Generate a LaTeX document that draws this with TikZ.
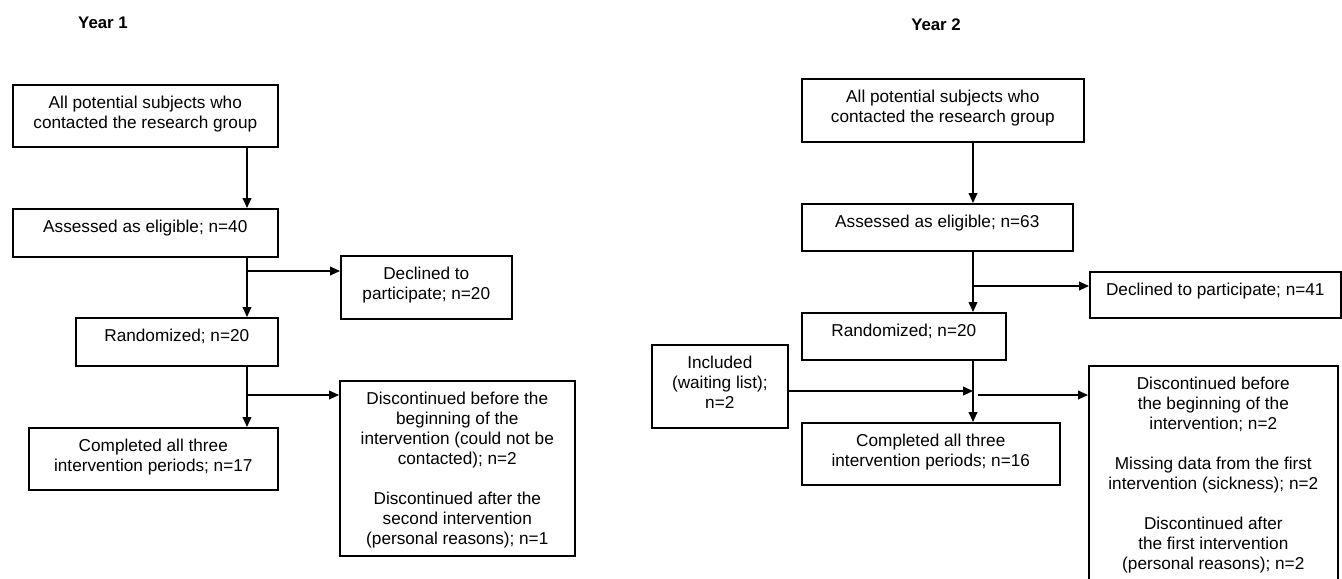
\documentclass[tikz,border=0pt]{standalone}
\usepackage{fontspec}
\setmainfont{Liberation Sans}
\usetikzlibrary{arrows.meta}

\newlength\pxu
\setlength\pxu{0.5pt}
% text set at the top of a box of given width and height (in px)
\newcommand{\boxtext}[3]{\parbox[c][#2\pxu][t]{#1\pxu}{\centering\rule{0pt}{11.8pt}#3}}

\tikzset{
  flowbox/.style={draw, line width=0.8pt, inner sep=0pt, anchor=north west},
  flowarrow/.style={-{Triangle[length=5pt,width=4.4pt]}, line width=0.7pt},
  yeartitle/.style={font=\fontsize{8.4}{10}\selectfont\bfseries}
}

\begin{document}
\begin{tikzpicture}[x=0.5pt,y=-0.5pt,font=\fontsize{8.6}{10}\selectfont]
\useasboundingbox (0,0) rectangle (1342,578);

% Year 1
\node[yeartitle] (title1) at (103,23) {Year 1};
\node[flowbox] (all1) at (12,84) {\boxtext{265}{62}{All potential subjects who\\contacted the research group}};
\node[flowbox] (elig1) at (12,208) {\boxtext{265}{48}{Assessed as eligible; n=40}};
\node[flowbox] (decl1) at (340,255) {\boxtext{171}{63}{Declined to\\participate; n=20}};
\node[flowbox] (rand1) at (75,317) {\boxtext{202}{48}{Randomized; n=20}};
\node[flowbox] (comp1) at (28,427) {\boxtext{249}{62}{Completed all three\\intervention periods; n=17}};
\node[flowbox] (disc1) at (339,380) {\boxtext{235}{175}{Discontinued before the\\beginning of the\\intervention (could not be\\contacted); n=2\\[10pt]Discontinued after the\\second intervention\\(personal reasons); n=1}};

\coordinate (j1) at (247,271);
\coordinate (j2) at (247,395);
\draw[flowarrow] (all1.south -| j1) -- (elig1.north -| j1);
\draw[flowarrow] (elig1.south -| j1) -- (rand1.north -| j1);
\draw[flowarrow] (j1) -- (j1 -| decl1.west);
\draw[flowarrow] (rand1.south -| j2) -- (comp1.north -| j2);
\draw[flowarrow] (j2) -- (j2 -| disc1.west);

% Year 2
\node[yeartitle] (title2) at (936,25) {Year 2};
\node[flowbox] (all2) at (801,78) {\boxtext{282}{63}{All potential subjects who\\contacted the research group}};
\node[flowbox] (elig2) at (801,203) {\boxtext{271}{47}{Assessed as eligible; n=63}};
\node[flowbox] (decl2) at (1089,271) {\boxtext{251}{46}{Declined to participate; n=41}};
\node[flowbox] (rand2) at (801,312) {\boxtext{204}{47}{Randomized; n=20}};
\node[flowbox] (incl2) at (651,344) {\boxtext{136}{83}{Included\\(waiting list);\\n=2}};
\node[flowbox] (comp2) at (801,422) {\boxtext{258}{62}{Completed all three\\intervention periods; n=16}};
\node[flowbox] (disc2) at (1088,365) {\boxtext{249}{240}{Discontinued before\\the beginning of the\\intervention; n=2\\[10pt]Missing data from the first\\intervention (sickness); n=2\\[10pt]Discontinued after\\the first intervention\\(personal reasons); n=2}};

\coordinate (k1) at (973,286);
\coordinate (k2) at (973,391);
\coordinate (k3) at (978,395);
\draw[flowarrow] (all2.south -| k1) -- (elig2.north -| k1);
\draw[flowarrow] (elig2.south -| k1) -- (rand2.north -| k1);
\draw[flowarrow] (k1) -- (k1 -| decl2.west);
\draw[flowarrow] (rand2.south -| k2) -- (comp2.north -| k2);
\draw[flowarrow] (k2 -| incl2.east) -- (k2);
\draw[flowarrow] (k3) -- (k3 -| disc2.west);
\end{tikzpicture}
\end{document}
